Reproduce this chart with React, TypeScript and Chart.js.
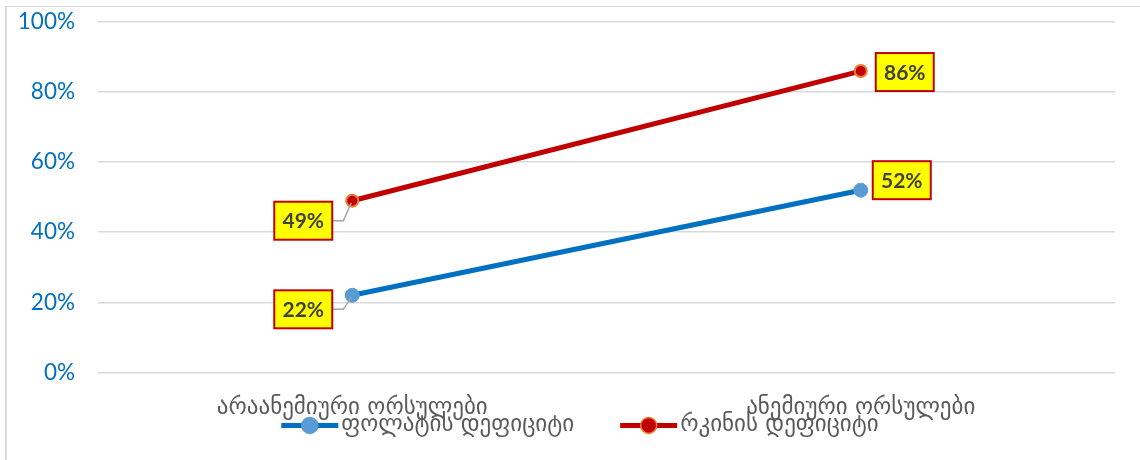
import React, { useEffect, useRef } from "react";
import { Chart, registerables } from "chart.js";

Chart.register(...registerables);

const categories = ["არაანემიური ორსულები", "ანემიური ორსულები"];
const seriesNames = ["ფოლატის დეფიციტი", "რკინის დეფიციტი"];
const folateValues = [22, 52];
const ironValues = [49, 86];
const yTickValues = [0, 20, 40, 60, 80, 100];

const BLUE = "#0070C0";
const BLUE_MARK = "#5B9BD5";
const RED = "#C00000";
const ORANGE = "#ED7D31";
const GEO_FONT = "'DejaVu Sans', sans-serif";
const NUM_FONT = "Lato, 'DejaVu Sans', sans-serif";

// label placement (box centre offset from point) for each dataset/point
const labelPlacement = [
  [
    { dx: -49, dy: 14, leader: true },
    { dx: 41, dy: -10, leader: false },
  ],
  [
    { dx: -49, dy: 20, leader: true },
    { dx: 44, dy: 1, leader: false },
  ],
];

const dataLabelPlugin = {
  id: "boxLabels",
  afterDatasetsDraw(chart: any) {
    const ctx = chart.ctx;
    chart.data.datasets.forEach((ds: any, di: number) => {
      const meta = chart.getDatasetMeta(di);
      meta.data.forEach((pt: any, i: number) => {
        const place = labelPlacement[di][i];
        const cx = pt.x + place.dx;
        const cy = pt.y + place.dy;
        const w = 58;
        const h = 38;
        const left = cx - w / 2;
        const top = cy - h / 2;
        ctx.save();
        if (place.leader) {
          ctx.strokeStyle = "#A6A6A6";
          ctx.lineWidth = 1.5;
          ctx.beginPath();
          ctx.moveTo(left + w, cy);
          ctx.lineTo(left + w + 11, cy);
          ctx.lineTo(pt.x - 1, pt.y + 2);
          ctx.stroke();
        }
        ctx.fillStyle = "#FFFF00";
        ctx.fillRect(left, top, w, h);
        ctx.strokeStyle = RED;
        ctx.lineWidth = 2;
        ctx.strokeRect(left, top, w, h);
        ctx.fillStyle = "#404040";
        ctx.font = "bold 21px " + NUM_FONT;
        ctx.textAlign = "center";
        ctx.textBaseline = "middle";
        ctx.fillText(ds.data[i] + "%", cx, cy + 1);
        ctx.restore();
      });
    });
  },
};

const legendPlugin = {
  id: "customLegend",
  afterDraw(chart: any) {
    const ctx = chart.ctx;
    const y = chart.chartArea.bottom + 53;
    const iconW = 57;
    const gapText = 3;
    const gapItem = 46;
    ctx.save();
    ctx.font = "23px " + GEO_FONT;
    const items = chart.data.datasets.map((ds: any) => ({
      ds,
      tw: ctx.measureText(ds.label).width,
    }));
    let total = 0;
    items.forEach((it: any, k: number) => {
      total += iconW + gapText + it.tw + (k > 0 ? gapItem : 0);
    });
    let x = 580 - total / 2;
    items.forEach((it: any) => {
      const ds = it.ds;
      ctx.strokeStyle = ds.borderColor;
      ctx.lineWidth = 5;
      ctx.beginPath();
      ctx.moveTo(x, y);
      ctx.lineTo(x + iconW, y);
      ctx.stroke();
      ctx.beginPath();
      ctx.arc(x + iconW / 2, y, 8, 0, Math.PI * 2);
      ctx.fillStyle = ds.pointBackgroundColor;
      ctx.fill();
      ctx.lineWidth = 1.5;
      ctx.strokeStyle = ds.pointBorderColor;
      ctx.stroke();
      ctx.fillStyle = "#595959";
      ctx.textAlign = "left";
      ctx.textBaseline = "middle";
      ctx.fillText(ds.label, x + iconW + gapText, y);
      x += iconW + gapText + it.tw + gapItem;
    });
    ctx.restore();
  },
};

export default function App() {
  const ref = useRef<HTMLCanvasElement | null>(null);
  useEffect(() => {
    if (!ref.current) return;
    const chart = new Chart(ref.current, {
      type: "line",
      data: {
        labels: categories,
        datasets: [
          {
            label: seriesNames[0],
            data: folateValues,
            borderColor: BLUE,
            backgroundColor: BLUE,
            borderWidth: 5,
            pointRadius: 7,
            pointBackgroundColor: BLUE_MARK,
            pointBorderColor: BLUE_MARK,
            pointBorderWidth: 1,
          },
          {
            label: seriesNames[1],
            data: ironValues,
            borderColor: RED,
            backgroundColor: RED,
            borderWidth: 5,
            pointRadius: 6,
            pointBackgroundColor: RED,
            pointBorderColor: ORANGE,
            pointBorderWidth: 2,
          },
        ],
      },
      options: {
        animation: false,
        responsive: false,
        maintainAspectRatio: false,
        layout: { padding: { top: 22, right: 25, bottom: 16, left: 0 } },
        plugins: {
          legend: { display: false },
          tooltip: { enabled: false },
        },
        scales: {
          x: {
            offset: true,
            grid: { display: false, drawTicks: false },
            border: { display: false },
            ticks: {
              padding: 22,
              color: "#595959",
              font: { family: GEO_FONT, size: 23 },
            },
          },
          y: {
            min: 0,
            max: 100,
            afterBuildTicks(scale: any) {
              scale.ticks = yTickValues.map((v) => ({ value: v }));
            },
            afterFit(scale: any) {
              scale.width = 98;
              scale.paddingTop = 0;
              scale.paddingBottom = 0;
            },
            grid: { color: "#D9D9D9", lineWidth: 1.5, drawTicks: false },
            border: { display: false },
            ticks: {
              padding: 23,
              color: BLUE,
              font: { family: NUM_FONT, size: 22.5 },
              callback: (v: any) => v + "%",
            },
          },
        },
      },
      plugins: [dataLabelPlugin, legendPlugin],
    });
    return () => chart.destroy();
  }, []);
  return (
    <div style={{ position: "absolute", left: 0, top: 0, width: 1140, height: 460, background: "#fff" }}>
      <div
        style={{
          position: "absolute",
          left: 5,
          top: 6,
          width: 1140,
          height: 460,
          borderTop: "1.5px solid #D9D9D9",
          borderLeft: "2px solid #D9D9D9",
        }}
      />
      <canvas ref={ref} width={1140} height={460} style={{ position: "absolute", left: 0, top: 0 }} />
    </div>
  );
}
